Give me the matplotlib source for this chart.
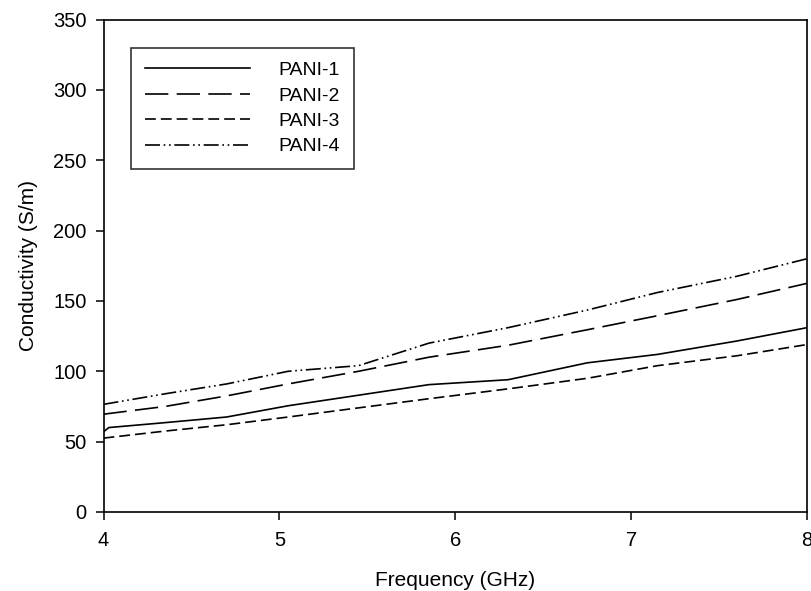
import matplotlib
matplotlib.use('Agg')
import matplotlib.pyplot as plt

plt.rcParams['font.family'] = ['Liberation Sans', 'DejaVu Sans']

# values
freq = [4.0, 4.35, 4.7, 5.05, 5.45, 5.85, 6.3, 6.75, 7.15, 7.6, 8.0]
freq_pani1 = [4.0, 4.03, 4.35, 4.7, 5.05, 5.45, 5.85, 6.3, 6.75, 7.15, 7.6, 8.0]
pani1 = [57, 60, 63.5, 67.5, 75.5, 83, 90.5, 94, 106, 112, 121.5, 131]
pani2 = [69.5, 75, 82.5, 91, 100, 110, 118.5, 129.5, 139.5, 151, 162.5]
pani3 = [52.5, 57.5, 62, 67.5, 74, 80.5, 87.5, 95, 104, 111, 119]
pani4 = [76.5, 84, 91, 100, 104, 120, 131, 143.5, 156, 167.5, 180]
labels = ['PANI-1', 'PANI-2', 'PANI-3', 'PANI-4']

fig = plt.figure(figsize=(8.12, 5.91), dpi=100)
ax = fig.add_axes([0.1275, 0.1337, 0.8665, 0.8333])

lw = 1.2
ax.plot(freq_pani1, pani1, color='black', lw=lw, ls='-', label=labels[0])
ax.plot(freq, pani2, color='black', lw=lw, ls=(0, (14, 5)), label=labels[1])
ax.plot(freq, pani3, color='black', lw=lw, ls=(0, (6.5, 3)), label=labels[2])
ax.plot(freq, pani4, color='black', lw=lw, ls=(0, (9, 2.2, 1, 2.2, 1, 2.2)), label=labels[3])

ax.set_xlim(4, 8)
ax.set_ylim(0, 350)
ax.set_xticks([4, 5, 6, 7, 8])
ax.set_yticks(range(0, 351, 50))
ax.tick_params(direction='out', length=6, width=1.1, labelsize=14.5,
               top=False, right=False)
ax.tick_params(axis='y', pad=6)
ax.tick_params(axis='x', pad=8)
for s in ax.spines.values():
    s.set_linewidth(1.2)

ax.set_xlabel('Frequency (GHz)', fontsize=15, labelpad=15)
ax.set_ylabel('Conductivity (S/m)', fontsize=15, labelpad=11)

leg = ax.legend(loc='upper left', bbox_to_anchor=(0.039, 0.942), fontsize=14,
                frameon=True, fancybox=False, edgecolor='black',
                handlelength=5.4, handletextpad=1.5, labelspacing=0.4,
                borderpad=0.7, borderaxespad=0)
leg.get_frame().set_linewidth(1.2)

fig.savefig('out.png', dpi=100)
